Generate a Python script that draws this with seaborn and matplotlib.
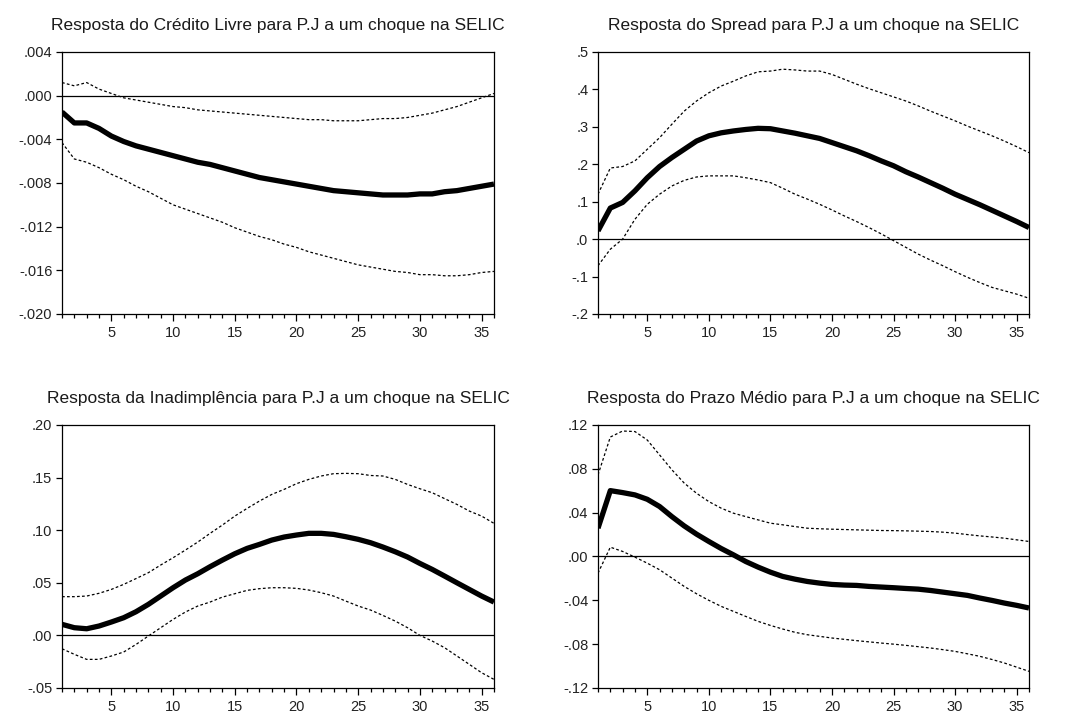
import numpy as np
import pandas as pd
import matplotlib
matplotlib.use("Agg")
import matplotlib.pyplot as plt
import seaborn as sns
from matplotlib.ticker import FixedLocator, MultipleLocator, FuncFormatter

periods = list(range(1, 37))

# Panel 1: Crédito Livre
credito_resp = [-0.0015, -0.0025, -0.0025, -0.0030, -0.0037, -0.0042, -0.0046, -0.0049, -0.0052, -0.0055,
                -0.0058, -0.0061, -0.0063, -0.0066, -0.0069, -0.0072, -0.0075, -0.0077, -0.0079, -0.0081,
                -0.0083, -0.0085, -0.0087, -0.0088, -0.0089, -0.0090, -0.0091, -0.0091, -0.0091, -0.0090,
                -0.0090, -0.0088, -0.0087, -0.0085, -0.0083, -0.0081]
credito_up = [0.0012, 0.0009, 0.0012, 0.0006, 0.0002, -0.0002, -0.0004, -0.0006, -0.0008, -0.0010,
              -0.0011, -0.0013, -0.0014, -0.0015, -0.0016, -0.0017, -0.0018, -0.0019, -0.0020, -0.0021,
              -0.0022, -0.0022, -0.0023, -0.0023, -0.0023, -0.0022, -0.0021, -0.0021, -0.0020, -0.0018,
              -0.0016, -0.0013, -0.0010, -0.0006, -0.0002, 0.0002]
credito_lo = [-0.0043, -0.0058, -0.0061, -0.0066, -0.0072, -0.0077, -0.0083, -0.0088, -0.0094, -0.0100,
              -0.0104, -0.0108, -0.0112, -0.0116, -0.0121, -0.0125, -0.0129, -0.0132, -0.0136, -0.0139,
              -0.0143, -0.0146, -0.0149, -0.0152, -0.0155, -0.0157, -0.0159, -0.0161, -0.0162, -0.0164,
              -0.0164, -0.0165, -0.0165, -0.0164, -0.0162, -0.0161]

# Panel 2: Spread
spread_resp = [0.022, 0.083, 0.098, 0.129, 0.164, 0.194, 0.218, 0.240, 0.262, 0.276,
               0.284, 0.289, 0.293, 0.296, 0.295, 0.289, 0.283, 0.276, 0.269, 0.258,
               0.247, 0.236, 0.223, 0.209, 0.196, 0.180, 0.166, 0.151, 0.136, 0.120,
               0.106, 0.092, 0.077, 0.062, 0.047, 0.031]
spread_up = [0.120, 0.190, 0.194, 0.209, 0.240, 0.271, 0.307, 0.342, 0.369, 0.391,
             0.409, 0.422, 0.436, 0.447, 0.449, 0.454, 0.452, 0.449, 0.449, 0.440,
             0.427, 0.414, 0.402, 0.391, 0.380, 0.369, 0.356, 0.342, 0.329, 0.316,
             0.302, 0.289, 0.276, 0.262, 0.247, 0.231]
spread_lo = [-0.071, -0.027, 0.000, 0.053, 0.093, 0.120, 0.142, 0.157, 0.166, 0.169,
             0.169, 0.169, 0.164, 0.158, 0.151, 0.136, 0.120, 0.107, 0.093, 0.078,
             0.062, 0.047, 0.031, 0.014, -0.004, -0.022, -0.040, -0.056, -0.071, -0.087,
             -0.102, -0.116, -0.129, -0.138, -0.147, -0.158]

# Panel 3: Inadimplência
inad_resp = [0.0105, 0.0073, 0.0063, 0.0089, 0.0127, 0.0168, 0.0225, 0.0295, 0.0374, 0.0453,
             0.0526, 0.0586, 0.0653, 0.0716, 0.0776, 0.0827, 0.0865, 0.0906, 0.0935, 0.0954,
             0.0970, 0.0970, 0.0960, 0.0938, 0.0913, 0.0881, 0.0840, 0.0795, 0.0745, 0.0684,
             0.0627, 0.0564, 0.0500, 0.0437, 0.0374, 0.0317]
inad_up = [0.0368, 0.0368, 0.0374, 0.0400, 0.0437, 0.0485, 0.0540, 0.0596, 0.0669, 0.0738,
           0.0811, 0.0887, 0.0970, 0.1049, 0.1134, 0.1207, 0.1277, 0.1340, 0.1388, 0.1442,
           0.1483, 0.1515, 0.1537, 0.1540, 0.1537, 0.1520, 0.1515, 0.1483, 0.1435, 0.1394,
           0.1356, 0.1300, 0.1245, 0.1182, 0.1134, 0.1065]
inad_lo = [-0.0127, -0.0180, -0.0228, -0.0228, -0.0196, -0.0158, -0.0086, -0.0006, 0.0073, 0.0152,
           0.0222, 0.0279, 0.0317, 0.0364, 0.0396, 0.0428, 0.0444, 0.0453, 0.0453, 0.0447,
           0.0431, 0.0406, 0.0374, 0.0326, 0.0279, 0.0241, 0.0190, 0.0136, 0.0073, 0.0000,
           -0.0054, -0.0117, -0.0196, -0.0275, -0.0355, -0.0418]

# Panel 4: Prazo Médio
prazo_resp = [0.0258, 0.0601, 0.0583, 0.0562, 0.0522, 0.0456, 0.0364, 0.0279, 0.0204, 0.0137,
              0.0073, 0.0015, -0.0046, -0.0097, -0.0143, -0.0182, -0.0207, -0.0228, -0.0243, -0.0255,
              -0.0261, -0.0264, -0.0273, -0.0279, -0.0285, -0.0292, -0.0298, -0.0310, -0.0325, -0.0340,
              -0.0355, -0.0379, -0.0401, -0.0425, -0.0446, -0.0470]
prazo_up = [0.0744, 0.1090, 0.1145, 0.1140, 0.1063, 0.0927, 0.0791, 0.0670, 0.0577, 0.0501,
            0.0441, 0.0395, 0.0364, 0.0334, 0.0304, 0.0289, 0.0273, 0.0258, 0.0253, 0.0249,
            0.0246, 0.0243, 0.0240, 0.0237, 0.0236, 0.0234, 0.0231, 0.0228, 0.0222, 0.0213,
            0.0200, 0.0188, 0.0178, 0.0167, 0.0152, 0.0137]
prazo_lo = [-0.0152, 0.0085, 0.0046, -0.0006, -0.0061, -0.0121, -0.0197, -0.0273, -0.0340, -0.0400,
            -0.0455, -0.0501, -0.0547, -0.0592, -0.0629, -0.0662, -0.0692, -0.0714, -0.0729, -0.0744,
            -0.0756, -0.0768, -0.0779, -0.0790, -0.0800, -0.0811, -0.0823, -0.0835, -0.0850, -0.0866,
            -0.0888, -0.0911, -0.0940, -0.0972, -0.1010, -0.1048]

titles = ["Resposta do Crédito Livre para P.J a um choque na SELIC",
          "Resposta do Spread para P.J a um choque na SELIC",
          "Resposta da Inadimplência para P.J a um choque na SELIC",
          "Resposta do Prazo Médio para P.J a um choque na SELIC"]
yticks = [[0.004, 0.000, -0.004, -0.008, -0.012, -0.016, -0.020],
          [0.5, 0.4, 0.3, 0.2, 0.1, 0.0, -0.1, -0.2],
          [0.20, 0.15, 0.10, 0.05, 0.00, -0.05],
          [0.12, 0.08, 0.04, 0.00, -0.04, -0.08, -0.12]]
ydecimals = [3, 1, 2, 2]
xtick_labels = [5, 10, 15, 20, 25, 30, 35]

series = [(credito_resp, credito_up, credito_lo),
          (spread_resp, spread_up, spread_lo),
          (inad_resp, inad_up, inad_lo),
          (prazo_resp, prazo_up, prazo_lo)]

sns.set_theme(style="white")
plt.rcParams['font.family'] = ['Liberation Sans', 'DejaVu Sans']

fig = plt.figure(figsize=(10.65, 7.18), dpi=100)
positions = [[0.0582, 0.5627, 0.4056, 0.3649],
             [0.5615, 0.5627, 0.4047, 0.3649],
             [0.0582, 0.0418, 0.4056, 0.3663],
             [0.5615, 0.0418, 0.4047, 0.3663]]


def make_fmt(dec):
    def f(v, pos):
        s = f"{v:.{dec}f}"
        if s.startswith("-0."):
            s = "-" + s[2:]
        elif s.startswith("0."):
            s = s[1:]
        if s.startswith("-") and float(s) == 0:
            s = s[1:]
        return s
    return FuncFormatter(f)


for i in range(4):
    ax = fig.add_axes(positions[i])
    resp, up, lo = series[i]
    df = pd.DataFrame({"periodo": periods, "resp": resp, "up": up, "lo": lo})
    ax.axhline(0, color="black", lw=0.9, zorder=1)
    sns.lineplot(data=df, x="periodo", y="up", ax=ax, color="black", lw=0.9,
                 linestyle=(0, (2.2, 1.8)), zorder=2)
    sns.lineplot(data=df, x="periodo", y="lo", ax=ax, color="black", lw=0.9,
                 linestyle=(0, (2.2, 1.8)), zorder=2)
    sns.lineplot(data=df, x="periodo", y="resp", ax=ax, color="black", lw=3.8,
                 solid_capstyle="butt", zorder=3)
    ax.set_xlim(1, 36)
    ax.set_ylim(min(yticks[i]), max(yticks[i]))
    ax.set_xlabel("")
    ax.set_ylabel("")
    ax.xaxis.set_major_locator(FixedLocator(xtick_labels))
    ax.xaxis.set_minor_locator(MultipleLocator(1))
    ax.yaxis.set_major_locator(FixedLocator(yticks[i]))
    ax.yaxis.set_major_formatter(make_fmt(ydecimals[i]))
    ax.tick_params(axis="x", which="major", direction="out", length=5, width=0.9,
                   color="black", labelsize=10.5, labelcolor="#222222", pad=4, bottom=True)
    ax.tick_params(axis="x", which="minor", direction="out", length=3, width=0.9,
                   color="black", bottom=True)
    ax.tick_params(axis="y", which="major", direction="out", length=4, width=0.9,
                   color="black", labelsize=10.5, labelcolor="#222222", pad=3, left=True)
    for sp in ax.spines.values():
        sp.set_color("black")
        sp.set_linewidth(0.9)
    ax.set_title(titles[i], fontsize=12.5, color="#1a1a1a", pad=16)

fig.savefig("out.png", dpi=100, facecolor="white")
